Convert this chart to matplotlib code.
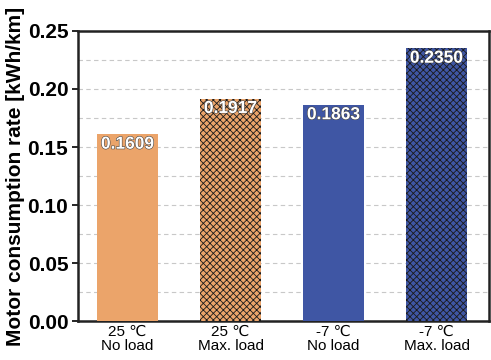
import matplotlib.pyplot as plt
import matplotlib.patheffects as pe
import numpy as np

plt.rcParams['font.family'] = ['Liberation Sans', 'DejaVu Sans']
plt.rcParams['hatch.linewidth'] = 0.6

categories = ["25 \u2103\nNo load", "25 \u2103\nMax. load", "-7 \u2103\nNo load", "-7 \u2103\nMax. load"]
values = [0.1609, 0.1917, 0.1863, 0.2350]
colors = ["#eba46a", "#eba46a", "#3f56a4", "#3f56a4"]
hatches = [None, "xxxxx", None, "xxxxx"]

fig = plt.figure(figsize=(4.91, 3.6), dpi=100)
ax = fig.add_axes([0.159, 0.108, 0.837, 0.806])

x = np.arange(len(categories))
for xi, v, c, h in zip(x, values, colors, hatches):
    ax.bar(xi, v, width=0.6, color=c, hatch=h, edgecolor="#1a1a1a" if h else c,
           linewidth=0, zorder=3)
    t = ax.text(xi, v - 0.002, f"{v:.4f}", ha="center", va="top", color="white",
                fontsize=12.5, fontweight="bold", zorder=4)
    t.set_path_effects([pe.withStroke(linewidth=0.8, foreground="#444444")])

ax.set_xlim(-0.48, 3.51)
ax.set_ylim(0, 0.25)
ax.set_yticks(np.arange(0, 0.26, 0.05))
ax.set_yticks(np.arange(0.025, 0.25, 0.05), minor=True)
ax.yaxis.set_major_formatter(plt.FuncFormatter(lambda v, p: f"{v:.2f}"))
ax.grid(axis="y", which="both", linestyle=(0, (4, 3)), color="#c8c8c8", linewidth=0.8, zorder=0)
ax.tick_params(axis="y", which="major", labelsize=15, length=4, direction="out", width=1.2, pad=3)
ax.tick_params(axis="y", which="minor", length=0)
for lbl in ax.get_yticklabels():
    lbl.set_fontweight("bold")
ax.set_xticks(x)
ax.set_xticklabels(categories, fontsize=11, linespacing=1.0)
ax.tick_params(axis="x", length=0, pad=3)
ax.set_ylabel("Motor consumption rate [kWh/km]", fontsize=15, fontweight="bold", labelpad=2)
for s in ax.spines.values():
    s.set_linewidth(1.8)
    s.set_color("#222222")

fig.savefig("out.png", dpi=100)
